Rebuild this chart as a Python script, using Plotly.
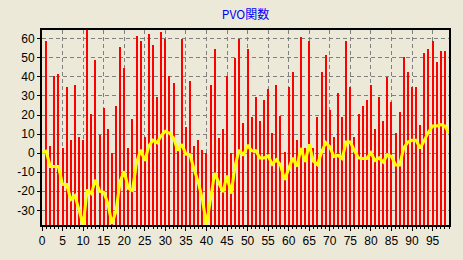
import plotly.graph_objects as go

# bar values at x = 1..98
bar_x = list(range(1, 99))
bar_vals = [58.8, 3.7, 40.7, 41.7, 2.8, 34.7, 6.7, 35.7, 8.7, 6.7,
            64.6, 20.7, 48.7, 9.7, 23.7, 12.7, 0.0, 24.7, 55.7, 44.7,
            2.7, 17.7, 61.7, 58.7, 8.7, 62.7, 56.7, 29.7, 63.7, 59.7,
            40.7, 36.7, 3.3, 59.7, 13.7, 37.7, 3.7, 6.7, 1.7, 0.0,
            35.7, 54.7, 7.7, 12.7, 40.7, 0.0, 50.0, 59.7, 15.7, 54.7,
            18.7, 29.7, 16.7, 27.7, 33.7, 10.7, 35.7, 19.7, 0.7, 34.7,
            42.7, 6.7, 60.7, 2.7, 58.7, 2.7, 18.7, 42.7, 51.7, 22.7,
            8.7, 31.7, 18.7, 58.7, 34.7, 8.7, 20.7, 24.7, 27.7, 35.7,
            12.7, 29.7, 16.7, 39.7, 26.7, 10.7, 21.7, 50.7, 42.7, 34.7,
            34.7, 14.7, 52.7, 54.7, 58.7, 47.7, 53.7, 53.7]

# PVO line at x = 0..99
line_x = list(range(0, 100))
line_vals = [0.3, 1.0, -7.0, -7.0, -7.0, -16.5, -16.5, -24.3, -22.3, -29.8,
             -37.7, -19.2, -21.2, -14.0, -20.0, -20.5, -26.2, -37.0, -30.5, -14.8,
             -9.6, -18.5, -19.6, -5.0, 1.7, -4.0, 3.8, 6.8, 5.5, 9.2,
             11.5, 10.5, 8.0, 1.4, 4.6, -0.5, -0.9, -8.5, -15.2, -24.0,
             -37.7, -24.0, -10.4, -15.5, -20.4, -11.8, -21.2, -6.2, 1.7, -1.2,
             4.2, 1.2, 1.2, -2.5, -2.5, -1.5, -5.8, -3.5, -6.2, -14.0,
             -8.3, -2.5, -7.0, 2.7, -4.6, 4.6, -4.2, -6.0, 0.5, 5.5,
             3.3, -1.8, -1.2, -2.8, 5.8, 5.8, 1.2, -2.5, -2.8, -2.8,
             0.2, -3.8, -2.5, -4.7, -0.8, -1.7, -6.2, -6.2, 2.8, 5.8,
             6.7, 6.7, 2.5, 7.2, 11.0, 14.2, 14.2, 15.0, 14.2, 10.5]

x_ticks = list(range(0, 100, 5))
y_ticks = list(range(-30, 61, 10))
title_text = "PVO関数"

ymin = min(line_vals)
ymax = max(bar_vals)

BG = "#ECE9D8"
FONT = "Liberation Sans, Arial, sans-serif"

fig = go.Figure()
fig.add_trace(go.Bar(
    x=bar_x,
    y=[v - ymin for v in bar_vals],
    base=ymin,
    width=0.24,
    marker=dict(color="#FF0000", line=dict(width=0)),
    hoverinfo="skip",
))
fig.add_trace(go.Scatter(
    x=line_x, y=line_vals, mode="lines",
    line=dict(color="#FFFF00", width=3),
    hoverinfo="skip",
))

fig.update_layout(
    width=463, height=260,
    paper_bgcolor=BG, plot_bgcolor=BG,
    margin=dict(l=42, r=12, t=30, b=27),
    showlegend=False,
    hovermode=False,
    bargap=0,
    font=dict(family=FONT, size=11, color="#000000"),
    title=dict(text=title_text, x=0.5, xref="paper", xanchor="center",
               y=1 - 15 / 260, yref="container", yanchor="middle",
               font=dict(family="Noto Sans CJK JP, sans-serif", size=12, color="#0000FF")),
)
fig.update_xaxes(
    range=[0, 99],
    tickmode="array", tickvals=x_ticks, ticktext=[str(t) for t in x_ticks],
    ticks="outside", ticklen=4, tickcolor="#000000", tickwidth=1,
    minor=dict(dtick=1, tick0=0, ticks="outside", ticklen=2, tickcolor="#000000", showgrid=False),
    showgrid=True, gridcolor="#808080", gridwidth=1, griddash="4px,3px",
    showline=True, linecolor="#000000", linewidth=2, mirror=True,
    zeroline=False,
    tickfont=dict(size=12),
)
fig.update_yaxes(
    range=[ymin, ymax],
    tickmode="array", tickvals=y_ticks, ticktext=[str(t) for t in y_ticks],
    ticks="outside", ticklen=3, tickcolor="#000000", tickwidth=1,
    showgrid=True, gridcolor="#808080", gridwidth=1, griddash="4px,3px",
    showline=True, linecolor="#000000", linewidth=2, mirror=True,
    zeroline=False,
    tickfont=dict(size=12),
)

fig.write_html("out.html")
